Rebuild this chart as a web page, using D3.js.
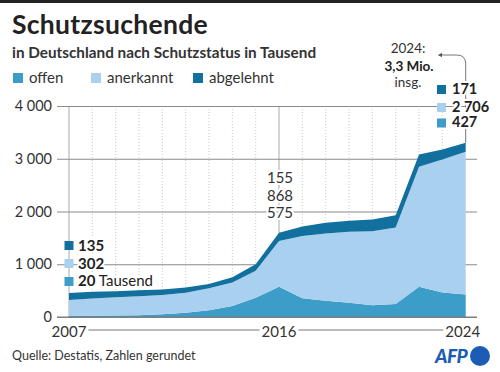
<!DOCTYPE html>
<html><head><meta charset="utf-8">
<script src="https://cdn.jsdelivr.net/npm/d3@7"></script>
<style>
html,body{margin:0;padding:0;background:#fff;}
svg{display:block;font-family:Lato,"Open Sans",sans-serif;}
</style></head>
<body>
<svg id="c" width="500" height="372"></svg>
<script>
const years = [2007,2008,2009,2010,2011,2012,2013,2014,2015,2016,2017,2018,2019,2020,2021,2022,2023,2024];
const offen =     [20, 22, 28, 35, 50, 80, 130, 210, 365, 575, 355, 310, 270, 225, 245, 575, 465, 427];
const anerkannt = [302,330,345,360,368,382,415,443,513,868,1180,1275,1345,1400,1450,2275,2520,2706];
const abgelehnt = [135,125,115,110,105,95, 80, 100,120,155,180, 200, 210, 225, 235, 230, 190, 171];
const seriesKeys = ["offen","anerkannt","abgelehnt"];
const seriesLabels = ["offen","anerkannt","abgelehnt"];
const colors = ["#3d9dc9","#a9d0ee","#11709e"];
const yTicks = [0,1000,2000,3000,4000];
const xTickYears = [2007,2016,2024];

const svg = d3.select("#c");
const loc = d3.formatLocale({decimal:",",thousands:" ",grouping:[3],currency:["","€"]});
const fmt = loc.format(",d");

const x = d3.scaleLinear().domain([2007,2024]).range([69,465.7]);
const y = d3.scaleLinear().domain([0,4000]).range([317,106]);

// top bar
svg.append("rect").attr("x",0).attr("y",0).attr("width",500).attr("height",3).attr("fill","#222");

// title
svg.append("text").attr("x",12).attr("y",34).attr("font-size",26.5).attr("font-weight",700)
  .attr("letter-spacing",0.3).attr("fill","#222").text("Schutzsuchende");
svg.append("text").attr("x",12).attr("y",58).attr("font-size",15.3).attr("font-weight",700)
  .attr("fill","#333").text("in Deutschland nach Schutzstatus in Tausend");

// legend
const legX = [13,91,193];
seriesLabels.forEach((l,i)=>{
  svg.append("rect").attr("x",legX[i]).attr("y",73).attr("width",10).attr("height",10).attr("fill",colors[i]);
  svg.append("text").attr("x",legX[i]+16).attr("y",83).attr("font-size",15).attr("fill","#333").text(l);
});

const data = years.map((yr,i)=>({year:yr,offen:offen[i],anerkannt:anerkannt[i],abgelehnt:abgelehnt[i]}));

// vertical dotted year gridlines
svg.append("g").selectAll("line").data(years.filter(d=>d!==2007&&d!==2016&&d!==2024)).join("line")
  .attr("x1",d=>x(d)).attr("x2",d=>x(d)).attr("y1",y(4000)).attr("y2",y(0))
  .attr("stroke","#bbb").attr("stroke-width",0.8).attr("stroke-dasharray","1,2");
svg.append("g").selectAll("line").data([2007,2016]).join("line")
  .attr("x1",d=>x(d)).attr("x2",d=>x(d)).attr("y1",y(4000)).attr("y2",y(0))
  .attr("stroke","#aaa").attr("stroke-width",1);

// y axis with gridlines
const yAxis = d3.axisLeft(y).tickValues(yTicks).tickSize(420).tickPadding(5).tickFormat(fmt);
const gy = svg.append("g").attr("transform","translate(477,0)").call(yAxis);
gy.select(".domain").remove();
gy.selectAll(".tick line").attr("stroke","#8a8a8a").attr("stroke-width",1);
gy.selectAll(".tick text").attr("font-size",14.5).attr("fill","#333").attr("font-family","Lato,'Open Sans',sans-serif");

// stacked areas
const stack = d3.stack().keys(seriesKeys);
const layers = stack(data);
const area = d3.area().x(d=>x(d.data.year)).y0(d=>y(d[0])).y1(d=>y(d[1]));
svg.append("g").selectAll("path").data(layers).join("path")
  .attr("d",area).attr("fill",(d,i)=>colors[i]);

// baseline
svg.append("line").attr("x1",57).attr("x2",477).attr("y1",y(0)).attr("y2",y(0)).attr("stroke","#777").attr("stroke-width",1);

// x axis labels with connecting lines
const xg = svg.append("g");
const xl = xTickYears.map(yr=>{
  const t = xg.append("text").attr("x",x(yr)).attr("y",337).attr("text-anchor","middle")
    .attr("font-size",15).attr("fill","#333").text(yr);
  if (yr===2024) t.attr("x",x(yr)-3);
  const w = t.node().getComputedTextLength();
  const cx = +t.attr("x");
  return [cx-w/2, cx+w/2];
});
for (let i=0;i<xl.length-1;i++){
  xg.append("line").attr("x1",xl[i][1]+2).attr("x2",xl[i+1][0]-2).attr("y1",330).attr("y2",330)
    .attr("stroke","#777").attr("stroke-width",1);
}

// annotation arrow (2024 total)
const last = data[data.length-1];
const topY = y(last.offen+last.anerkannt+last.abgelehnt);
svg.append("defs").append("marker").attr("id","ah").attr("viewBox","0 0 6 6").attr("refX",3).attr("refY",3)
  .attr("markerWidth",5).attr("markerHeight",5).attr("orient","auto-start-reverse")
  .append("path").attr("d","M0,0L6,3L0,6Z").attr("fill","#555");
svg.append("path").attr("d",`M${x(2024)},${topY}L${x(2024)},64Q${x(2024)},55 ${x(2024)-9},55L440,55`)
  .attr("fill","none").attr("stroke","#666").attr("stroke-width",0.9).attr("marker-end","url(#ah)");

function halo(sel){ return sel.attr("stroke","#fff").attr("stroke-width",4).attr("stroke-linejoin","round").attr("paint-order","stroke"); }

// left annotation (2007)
const first = data[0];
const leftRows = [
  {key:2, val:first.abgelehnt, sy:241, ty:251},
  {key:1, val:first.anerkannt, sy:259, ty:268.5},
  {key:0, val:first.offen, sy:277, ty:286, suffix:" Tausend"}
];
leftRows.forEach(r=>{
  svg.append("rect").attr("x",x(2007)-4.5).attr("y",r.sy).attr("width",9).attr("height",9).attr("fill",colors[r.key]);
  const t = halo(svg.append("text").attr("x",x(2007)+9).attr("y",r.ty).attr("font-size",15).attr("fill","#222"));
  t.append("tspan").attr("font-weight",700).text(fmt(r.val));
  if (r.suffix) t.append("tspan").attr("font-weight",400).text(r.suffix);
});

// middle annotation (2016)
const d16 = data[years.indexOf(2016)];
[[d16.abgelehnt,183],[d16.anerkannt,201],[d16.offen,218]].forEach(([v,ty])=>{
  halo(svg.append("text").attr("x",x(2016)+1).attr("y",ty).attr("text-anchor","middle")
    .attr("font-size",15).attr("fill","#333").text(fmt(v)));
});

// right annotation (2024)
const rightRows = [
  {key:2, val:last.abgelehnt, sy:85, ty:94},
  {key:1, val:last.anerkannt, sy:103, ty:111.5},
  {key:0, val:last.offen, sy:118.5, ty:127}
];
rightRows.forEach(r=>{
  svg.append("rect").attr("x",437).attr("y",r.sy).attr("width",9).attr("height",9).attr("fill",colors[r.key]);
  halo(svg.append("text").attr("x",452).attr("y",r.ty).attr("font-size",14.5).attr("font-weight",700)
    .attr("fill","#222").text(fmt(r.val)));
});
const tot = svg.append("g").attr("text-anchor","middle").attr("font-size",13.5).attr("fill","#333");
tot.append("text").attr("x",408).attr("y",53).text("2024:");
tot.append("text").attr("x",409).attr("y",70.5).attr("font-weight",700).attr("fill","#222").text("3,3 Mio.");
tot.append("text").attr("x",408).attr("y",87).text("insg.");

// footer
svg.append("text").attr("x",12).attr("y",360).attr("font-size",12.5).attr("fill","#333").text("Quelle: Destatis, Zahlen gerundet");
const afp = svg.append("g");
afp.append("text").attr("x",435).attr("y",363).attr("font-size",19).attr("font-weight",900)
  .attr("font-style","italic").attr("fill","#1b5db4").attr("letter-spacing",-0.5).text("AFP");
afp.append("circle").attr("cx",480).attr("cy",356).attr("r",10).attr("fill","#1b5db4");
</script>
</body></html>
